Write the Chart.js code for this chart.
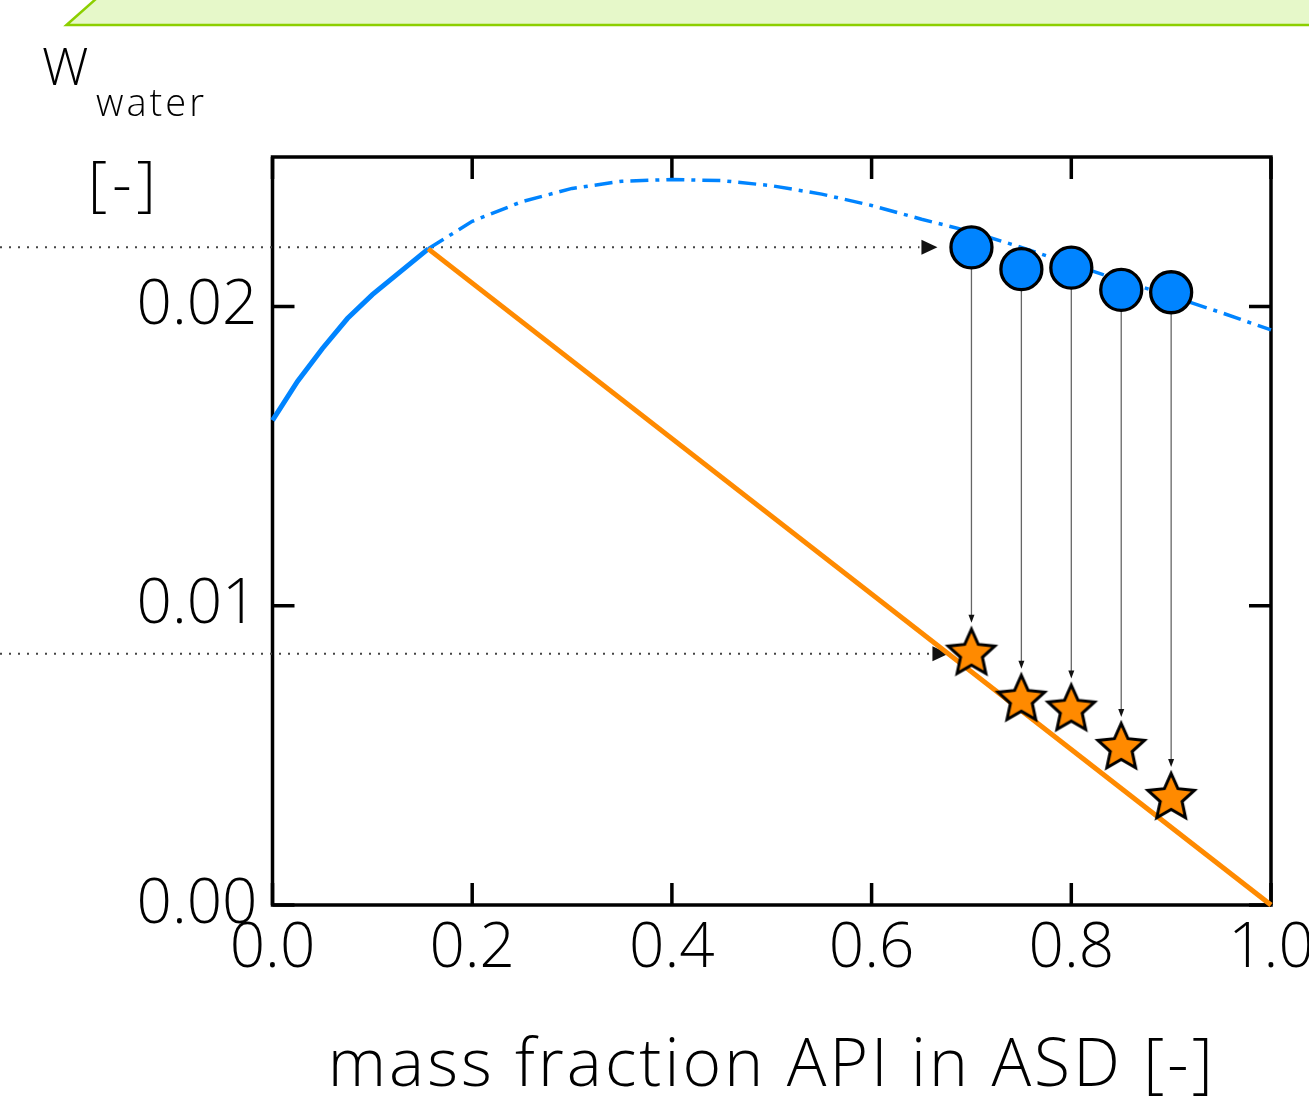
<!DOCTYPE html>
<html>
<head>
<meta charset="utf-8">
<script src="https://cdn.jsdelivr.net/npm/chart.js@4/dist/chart.umd.min.js"></script>
<style>
html,body{margin:0;padding:0;overflow:hidden;background:#fff;width:1309px;height:1097px}
#wrap{position:relative;width:1331px;height:1110px}
canvas{display:block}
</style>
</head>
<body>
<div id="wrap"><canvas id="c" width="1331" height="1110"></canvas></div>
<script>
// ---- data ----
const xTicks = [0, 0.2, 0.4, 0.6, 0.8, 1.0];
const yTicks = [0, 0.01, 0.02];
const solidX = [0, 0.025, 0.05, 0.075, 0.1, 0.156];
const solidY = [0.0162, 0.0175, 0.0186, 0.0196, 0.0204, 0.02193];
const dashX = [0.156, 0.2, 0.25, 0.3, 0.35, 0.4, 0.45, 0.5, 0.55, 0.6, 0.65, 0.7, 0.75, 0.8, 0.85, 0.9, 0.95, 1.0];
const dashY = [0.02193, 0.02285, 0.02351, 0.02395, 0.02419, 0.02425, 0.02421, 0.02404, 0.02376, 0.02338, 0.02292, 0.0225, 0.02198, 0.02142, 0.02087, 0.02035, 0.0198, 0.01922];
const tieX = [0.156, 1.0];
const tieY = [0.02193, 0];
const measX = [0.7, 0.75, 0.8, 0.85, 0.9];
const circleY = [0.02198, 0.02125, 0.0213, 0.02056, 0.02048];
const starY = [0.0084, 0.00686, 0.00653, 0.00525, 0.00358];
const xTitle = 'mass fraction API in ASD [-]';
const yLabelMain = 'W';
const yLabelSub = 'water';
const yLabelUnit = '[-]';

const FONT = '"Open Sans"';
const BLUE = '#0084ff';
const ORANGE = '#ff8a00';

const pts = (xs, ys) => xs.map((x, i) => ({x, y: ys[i]}));

// star point style image
function makeStar() {
  const s = 60, c = document.createElement('canvas');
  c.width = s; c.height = s;
  const g = c.getContext('2d');
  const R = 24.5, r = 11.5, cx = s / 2, cy = s / 2;
  g.beginPath();
  for (let i = 0; i < 10; i++) {
    const a = -Math.PI / 2 + i * Math.PI / 5;
    const rr = i % 2 === 0 ? R : r;
    const px = cx + rr * Math.cos(a), py = cy + rr * Math.sin(a);
    if (i === 0) g.moveTo(px, py); else g.lineTo(px, py);
  }
  g.closePath();
  g.fillStyle = ORANGE; g.fill();
  g.lineWidth = 3; g.lineJoin = 'miter'; g.strokeStyle = '#000'; g.stroke();
  return c;
}
const starImg = makeStar();

function arrowHead(ctx, x, y, dir, len, half) {
  ctx.beginPath();
  if (dir === 'right') { ctx.moveTo(x, y); ctx.lineTo(x - len, y - half); ctx.lineTo(x - len, y + half); }
  else { ctx.moveTo(x, y); ctx.lineTo(x - half, y - len); ctx.lineTo(x + half, y - len); }
  ctx.closePath(); ctx.fill();
}

const decor = {
  id: 'decor',
  beforeDraw(chart) {
    const ctx = chart.ctx;
    ctx.save();
    // green banner
    ctx.beginPath();
    ctx.moveTo(66.5, 25); ctx.lineTo(97, -2); ctx.lineTo(1400, -2); ctx.lineTo(1400, 25); ctx.closePath();
    ctx.fillStyle = '#e6f8c9'; ctx.fill();
    ctx.strokeStyle = '#8ccf00'; ctx.lineWidth = 2.5; ctx.stroke();
    // y-axis label
    ctx.fillStyle = '#000';
    ctx.textBaseline = 'alphabetic';
    ctx.textAlign = 'left';
    ctx.font = `300 52px ${FONT}`;
    ctx.fillText(yLabelMain, 42, 85);
    ctx.font = `300 38px ${FONT}`;
    ctx.letterSpacing = '3px';
    ctx.fillText(yLabelSub, 96, 116);
    ctx.font = `300 60px ${FONT}`;
    ctx.letterSpacing = '5px';
    ctx.fillText(yLabelUnit, 88, 205);
    ctx.restore();
    // spacing for the axis title (drawn in the scale's background layer)
    ctx.letterSpacing = '3.1px';
  },
  beforeDatasetsDraw(chart) {
    const {ctx, chartArea: a, scales: {x, y}} = chart;
    ctx.letterSpacing = '0px';
    ctx.save();
    // frame + inward ticks
    ctx.strokeStyle = '#000'; ctx.lineWidth = 3.5;
    ctx.strokeRect(a.left, a.top, a.right - a.left, a.bottom - a.top);
    const tl = 22;
    ctx.beginPath();
    xTicks.forEach(v => { const p = x.getPixelForValue(v);
      ctx.moveTo(p, a.bottom); ctx.lineTo(p, a.bottom - tl);
      ctx.moveTo(p, a.top); ctx.lineTo(p, a.top + tl); });
    yTicks.forEach(v => { const p = y.getPixelForValue(v);
      ctx.moveTo(a.left, p); ctx.lineTo(a.left + tl, p);
      ctx.moveTo(a.right, p); ctx.lineTo(a.right - tl, p); });
    ctx.stroke();
    // dotted reference lines with arrow heads
    ctx.strokeStyle = '#444'; ctx.fillStyle = '#111';
    ctx.lineWidth = 2; ctx.setLineDash([2, 7]);
    const yc = y.getPixelForValue(circleY[0]);
    const ys = y.getPixelForValue(starY[0]);
    const xm = x.getPixelForValue(measX[0]);
    ctx.beginPath(); ctx.moveTo(0, yc); ctx.lineTo(xm - 52, yc); ctx.stroke();
    ctx.beginPath(); ctx.moveTo(0, ys); ctx.lineTo(xm - 38, ys); ctx.stroke();
    ctx.setLineDash([]);
    arrowHead(ctx, xm - 34, yc, 'right', 16, 7.5);
    arrowHead(ctx, xm - 23, ys, 'right', 16, 7.5);
    // vertical arrows circle -> star
    ctx.strokeStyle = '#666'; ctx.lineWidth = 1.3; ctx.fillStyle = '#111';
    measX.forEach((v, i) => {
      const px = x.getPixelForValue(v);
      const y0 = y.getPixelForValue(circleY[i]);
      const y1 = y.getPixelForValue(starY[i]) - 31;
      ctx.beginPath(); ctx.moveTo(px, y0); ctx.lineTo(px, y1 - 6); ctx.stroke();
      arrowHead(ctx, px, y1, 'down', 8, 3);
    });
    ctx.restore();
  }
};

new Chart(document.getElementById('c'), {
  type: 'scatter',
  data: {
    datasets: [
      {data: pts(solidX, solidY), showLine: true, borderColor: BLUE, borderWidth: 5, pointRadius: 0, order: 5},
      {data: pts(dashX, dashY), showLine: true, borderColor: BLUE, borderWidth: 3.5, borderDash: [18, 7, 4, 7], pointRadius: 0, order: 6},
      {data: pts(tieX, tieY), showLine: true, borderColor: ORANGE, borderWidth: 5, pointRadius: 0, order: 4},
      {data: pts(measX, circleY), showLine: false, pointStyle: 'circle', pointRadius: 20.5, backgroundColor: BLUE, borderColor: '#000', borderWidth: 3.3, order: 1},
      {data: pts(measX, starY), showLine: false, pointStyle: starImg, pointRadius: 25, order: 2}
    ]
  },
  options: {
    responsive: false,
    animation: false,
    clip: false,
    layout: {padding: {left: 0, right: 60, top: 157, bottom: 0}},
    plugins: {legend: {display: false}, tooltip: {enabled: false}},
    scales: {
      x: {
        type: 'linear', min: 0, max: 1,
        afterBuildTicks: s => { s.ticks = xTicks.map(v => ({value: v})); },
        afterFit: s => { s.height = 205; },
        grid: {display: false, drawTicks: false},
        border: {display: false},
        ticks: {z: 1, color: '#000', padding: 7, font: {family: FONT, size: 62, weight: 300, lineHeight: 1.2},
                callback: v => v.toFixed(1), maxRotation: 0, autoSkip: false},
        title: {display: true, text: xTitle, color: '#000', padding: {top: 0, bottom: 3},
                font: {family: FONT, size: 66, weight: 300, lineHeight: 1.2}}
      },
      y: {
        type: 'linear', min: 0, max: 0.025,
        afterBuildTicks: s => { s.ticks = yTicks.map(v => ({value: v})); },
        afterFit: s => { s.width = 272.5; },
        grid: {display: false, drawTicks: false},
        border: {display: false},
        ticks: {z: 1, color: '#000', padding: 15, font: {family: FONT, size: 62, weight: 300, lineHeight: 1.2},
                callback: v => v.toFixed(2), autoSkip: false}
      }
    }
  },
  plugins: [decor]
});
</script>
</body>
</html>
